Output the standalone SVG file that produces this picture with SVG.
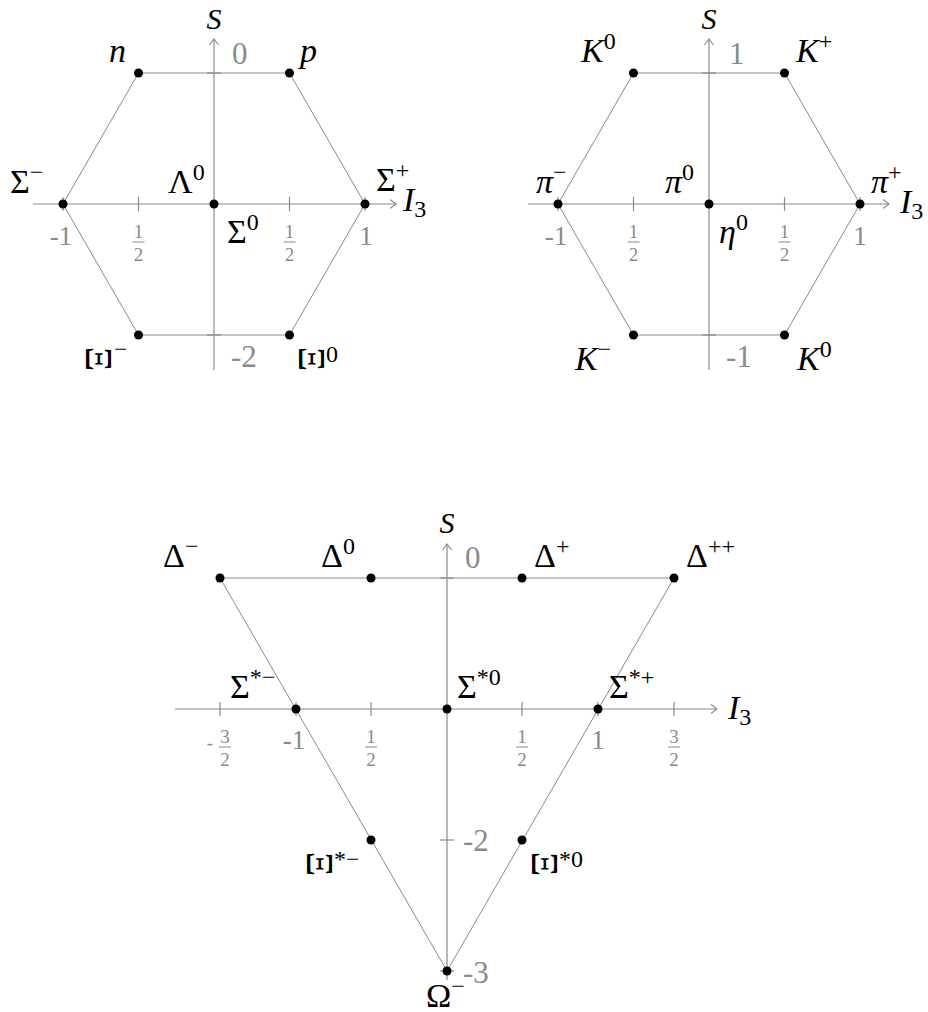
<svg xmlns="http://www.w3.org/2000/svg" width="928" height="1012" viewBox="0 0 928 1012" font-family="Liberation Serif, DejaVu Serif, serif">
<style>
.ax{stroke:#8a8a8a;stroke-width:1.2;fill:none}
.tk{stroke:#8a8a8a;stroke-width:1.2}
.ed{stroke:#8a8a8a;stroke-width:1;fill:none}
.dot{fill:#000}
.lb{font-size:34px;fill:#000}
.ttl{font-size:30px;fill:#000;font-style:italic;text-anchor:middle}
.xi{font-size:38px;fill:#000;text-anchor:middle}
.it{font-style:italic}
.sup{font-size:24px;font-style:normal}
.sub{font-size:24px;font-style:normal}
.sn{font-size:31px;fill:#8a8a8a}
.in{font-size:27px;fill:#8a8a8a;text-anchor:middle}
.fr{font-size:19px;fill:#8a8a8a;text-anchor:middle}
.bar{stroke:#8a8a8a;stroke-width:1}
</style>
<defs>
<marker id="arr" markerWidth="12" markerHeight="12" refX="0" refY="0" viewBox="-8 -6 10 12" markerUnits="userSpaceOnUse" orient="auto">
<path d="M-6,-4.5 L0,0 L-6,4.5" fill="none" stroke="#8a8a8a" stroke-width="1.1"/>
</marker>
</defs>

<!-- ===== Panel 1: baryon octet ===== -->
<g id="axes1">
<line class="ax" x1="33" y1="204" x2="396" y2="204" marker-end="url(#arr)"/>
<line class="ax" x1="214" y1="370" x2="214" y2="39" marker-end="url(#arr)"/>
<line class="tk" x1="138.5" y1="197" x2="138.5" y2="211"/>
<line class="tk" x1="289.5" y1="197" x2="289.5" y2="211"/>
<line class="tk" x1="63" y1="197" x2="63" y2="211"/>
<line class="tk" x1="365" y1="197" x2="365" y2="211"/>
<line class="tk" x1="207" y1="73" x2="221" y2="73"/>
<line class="tk" x1="207" y1="335" x2="221" y2="335"/>
<text class="ttl" x="214" y="29">S</text>
<text class="lb it" x="403" y="211">I<tspan class="sub" dy="6">3</tspan></text>
<text class="sn" x="232" y="64">0</text>
<text class="sn" x="231" y="367">-2</text>
<text class="in" x="61" y="245">-1</text>
<text class="in" x="366" y="245">1</text>
<text class="fr" x="138.5" y="238">1</text><line class="bar" x1="132.5" y1="242" x2="144.5" y2="242"/><text class="fr" x="138.5" y="261">2</text>
<text class="fr" x="289.5" y="238">1</text><line class="bar" x1="283.5" y1="242" x2="295.5" y2="242"/><text class="fr" x="289.5" y="261">2</text>
</g>
<g id="connectors1">
<polygon class="ed" points="63,204 138.5,73 289.5,73 365,204 289.5,335 138.5,335"/>
</g>
<g id="n"><circle class="dot" cx="138.5" cy="73" r="4.5"/><text class="lb it" x="109" y="62">n</text></g>
<g id="p"><circle class="dot" cx="289.5" cy="73" r="4.5"/><text class="lb it" x="300" y="62">p</text></g>
<g id="SigmaMinus"><circle class="dot" cx="63" cy="204" r="4.5"/><text class="lb" x="10" y="193">Σ<tspan class="sup" dy="-13">−</tspan></text></g>
<g id="SigmaPlus"><circle class="dot" cx="365" cy="204" r="4.5"/><text class="lb" x="376" y="191">Σ<tspan class="sup" dy="-13">+</tspan></text></g>
<g id="Lambda0"><circle class="dot" cx="214" cy="204" r="4.5"/><text class="lb" x="168" y="193">Λ<tspan class="sup" dy="-13">0</tspan></text></g>
<g id="Sigma0"><text class="lb" x="227" y="243">Σ<tspan class="sup" dy="-13">0</tspan></text></g>
<g id="XiMinus"><circle class="dot" cx="138.5" cy="335" r="4.5"/><text class="xi" x="98" y="371" transform="rotate(90 98 359)">Ξ</text><text class="lb sup" x="114" y="357">−</text></g>
<g id="Xi0"><circle class="dot" cx="289.5" cy="335" r="4.5"/><text class="xi" x="311" y="371" transform="rotate(90 311 359)">Ξ</text><text class="lb sup" x="326" y="362">0</text></g>

<!-- ===== Panel 2: meson octet ===== -->
<g id="axes2">
<line class="ax" x1="528" y1="204" x2="889" y2="204" marker-end="url(#arr)"/>
<line class="ax" x1="709" y1="370" x2="709" y2="39" marker-end="url(#arr)"/>
<line class="tk" x1="633.5" y1="197" x2="633.5" y2="211"/>
<line class="tk" x1="784.5" y1="197" x2="784.5" y2="211"/>
<line class="tk" x1="558" y1="197" x2="558" y2="211"/>
<line class="tk" x1="860" y1="197" x2="860" y2="211"/>
<line class="tk" x1="702" y1="73" x2="716" y2="73"/>
<line class="tk" x1="702" y1="335" x2="716" y2="335"/>
<text class="ttl" x="709" y="29">S</text>
<text class="lb it" x="900" y="213">I<tspan class="sub" dy="6">3</tspan></text>
<text class="sn" x="729" y="64">1</text>
<text class="sn" x="726" y="367">-1</text>
<text class="in" x="556" y="245">-1</text>
<text class="in" x="860" y="245">1</text>
<text class="fr" x="633.5" y="238">1</text><line class="bar" x1="627.5" y1="242" x2="639.5" y2="242"/><text class="fr" x="633.5" y="261">2</text>
<text class="fr" x="784.5" y="238">1</text><line class="bar" x1="778.5" y1="242" x2="790.5" y2="242"/><text class="fr" x="784.5" y="261">2</text>
</g>
<g id="connectors2">
<polygon class="ed" points="558,204 633.5,73 784.5,73 860,204 784.5,335 633.5,335"/>
</g>
<g id="K0top"><circle class="dot" cx="633.5" cy="73" r="4.5"/><text class="lb it" x="581" y="62">K<tspan class="sup" dy="-13">0</tspan></text></g>
<g id="KPlus"><circle class="dot" cx="784.5" cy="73" r="4.5"/><text class="lb it" x="796" y="62">K<tspan class="sup" dy="-13">+</tspan></text></g>
<g id="piMinus"><circle class="dot" cx="558" cy="204" r="4.5"/><text class="lb it" x="536" y="193">π<tspan class="sup" dy="-13">−</tspan></text></g>
<g id="pi0"><circle class="dot" cx="709" cy="204" r="4.5"/><text class="lb it" x="665" y="193">π<tspan class="sup" dy="-13">0</tspan></text></g>
<g id="piPlus"><circle class="dot" cx="860" cy="204" r="4.5"/><text class="lb it" x="871" y="193">π<tspan class="sup" dy="-13">+</tspan></text></g>
<g id="eta0"><text class="lb it" x="719" y="243">η<tspan class="sup" dy="-13">0</tspan></text></g>
<g id="KMinus"><circle class="dot" cx="633.5" cy="335" r="4.5"/><text class="lb it" x="575" y="370">K<tspan class="sup" dy="-13">−</tspan></text></g>
<g id="K0bottom"><circle class="dot" cx="784.5" cy="335" r="4.5"/><text class="lb it" x="797" y="370">K<tspan class="sup" dy="-13">0</tspan></text></g>

<!-- ===== Panel 3: baryon decuplet ===== -->
<g id="axes3">
<line class="ax" x1="175" y1="709" x2="717" y2="709" marker-end="url(#arr)"/>
<line class="ax" x1="447" y1="980" x2="447" y2="544" marker-end="url(#arr)"/>
<line class="tk" x1="220" y1="702" x2="220" y2="716"/>
<line class="tk" x1="296" y1="702" x2="296" y2="716"/>
<line class="tk" x1="371" y1="702" x2="371" y2="716"/>
<line class="tk" x1="522" y1="702" x2="522" y2="716"/>
<line class="tk" x1="598" y1="702" x2="598" y2="716"/>
<line class="tk" x1="674" y1="702" x2="674" y2="716"/>
<line class="tk" x1="440" y1="578" x2="454" y2="578"/>
<line class="tk" x1="440" y1="840" x2="454" y2="840"/>
<line class="tk" x1="440" y1="971" x2="454" y2="971"/>
<text class="ttl" x="447" y="533">S</text>
<text class="lb it" x="728" y="719">I<tspan class="sub" dy="6">3</tspan></text>
<text class="sn" x="465" y="568">0</text>
<text class="sn" x="463" y="851">-2</text>
<text class="sn" x="463" y="983">-3</text>
<text class="in" x="294" y="749">-1</text>
<text class="in" x="598" y="749">1</text>
<text class="fr" x="210" y="749">-</text>
<text class="fr" x="225" y="743">3</text><line class="bar" x1="219" y1="747" x2="231" y2="747"/><text class="fr" x="225" y="766">2</text>
<text class="fr" x="371" y="743">1</text><line class="bar" x1="365" y1="747" x2="377" y2="747"/><text class="fr" x="371" y="766">2</text>
<text class="fr" x="522" y="743">1</text><line class="bar" x1="516" y1="747" x2="528" y2="747"/><text class="fr" x="522" y="766">2</text>
<text class="fr" x="674" y="743">3</text><line class="bar" x1="668" y1="747" x2="680" y2="747"/><text class="fr" x="674" y="766">2</text>
</g>
<g id="connectors3">
<polygon class="ed" points="220,578 674,578 447,971"/>
</g>
<g id="DeltaMinus"><circle class="dot" cx="220" cy="578" r="4.5"/><text class="lb" x="163" y="567">Δ<tspan class="sup" dy="-13">−</tspan></text></g>
<g id="Delta0"><circle class="dot" cx="371" cy="578" r="4.5"/><text class="lb" x="321" y="567">Δ<tspan class="sup" dy="-13">0</tspan></text></g>
<g id="DeltaPlus"><circle class="dot" cx="522" cy="578" r="4.5"/><text class="lb" x="534" y="567">Δ<tspan class="sup" dy="-13">+</tspan></text></g>
<g id="DeltaPlusPlus"><circle class="dot" cx="674" cy="578" r="4.5"/><text class="lb" x="686" y="567">Δ<tspan class="sup" dy="-13">++</tspan></text></g>
<g id="SigmaStarMinus"><circle class="dot" cx="296" cy="709" r="4.5"/><text class="lb" x="230" y="698">Σ<tspan class="sup" dy="-13">*−</tspan></text></g>
<g id="SigmaStar0"><circle class="dot" cx="447" cy="709" r="4.5"/><text class="lb" x="457" y="698">Σ<tspan class="sup" dy="-13">*0</tspan></text></g>
<g id="SigmaStarPlus"><circle class="dot" cx="598" cy="709" r="4.5"/><text class="lb" x="609" y="698">Σ<tspan class="sup" dy="-13">*+</tspan></text></g>
<g id="XiStarMinus"><circle class="dot" cx="371" cy="840" r="4.5"/><text class="xi" x="319" y="876" transform="rotate(90 319 864)">Ξ</text><text class="lb sup" x="334" y="867">*−</text></g>
<g id="XiStar0"><circle class="dot" cx="522" cy="840" r="4.5"/><text class="xi" x="544" y="876" transform="rotate(90 544 864)">Ξ</text><text class="lb sup" x="559" y="867">*0</text></g>
<g id="OmegaMinus"><circle class="dot" cx="447" cy="971" r="4.5"/><text class="lb" x="426" y="1007">Ω<tspan class="sup" dy="-13">−</tspan></text></g>
</svg>
